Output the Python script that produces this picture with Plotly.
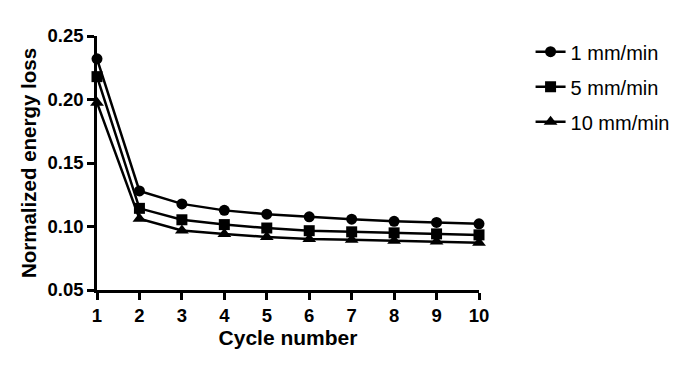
import plotly.graph_objects as go

cycles = [1, 2, 3, 4, 5, 6, 7, 8, 9, 10]
rate_1 = [0.232, 0.128, 0.1178, 0.1127, 0.1097, 0.1076, 0.1058, 0.1041, 0.1032, 0.1021]
rate_5 = [0.218, 0.1143, 0.1053, 0.1015, 0.0988, 0.0967, 0.0958, 0.0950, 0.0942, 0.0934]
rate_10 = [0.1975, 0.1062, 0.0968, 0.0940, 0.0918, 0.0902, 0.0896, 0.0888, 0.0882, 0.0872]
names = ["1 mm/min", "5 mm/min", "10 mm/min"]
symbols = ["circle", "square", "triangle-up"]

fig = go.Figure()
for i, (vals, nm, sym) in enumerate(zip([rate_1, rate_5, rate_10], names, symbols)):
    fig.add_trace(go.Scatter(
        x=cycles, y=vals, name=nm, mode="lines+markers",
        line=dict(color="black", width=2.5),
        marker=dict(symbol=sym, size=11 if sym != "triangle-up" else 12, color="black"),
        cliponaxis=False, legendgroup=str(i),
    ))

fig.update_layout(
    width=700, height=371,
    margin=dict(l=89, r=229, t=28, b=89),
    paper_bgcolor="white", plot_bgcolor="white",
    font=dict(family="Liberation Sans, Arial", color="black"),
    showlegend=True,
    legend=dict(x=1.135, y=1.015, xanchor="left", yanchor="top",
                font=dict(size=20, color="black"), tracegroupgap=6,
                traceorder="grouped", itemwidth=30),
    xaxis=dict(range=[1, 10], tickvals=cycles, showline=True, linecolor="black", linewidth=2.5,
               ticks="outside", ticklen=7, tickwidth=2.5, tickcolor="black", showgrid=False, zeroline=False,
               automargin=False,
               tickfont=dict(size=18.5, family="Liberation Sans, Arial", weight="bold"),
               title=dict(text="<b>Cycle number</b>", font=dict(size=21), standoff=6)),
    yaxis=dict(range=[0.05, 0.25], tickvals=[0.05, 0.10, 0.15, 0.20, 0.25],
               ticktext=["0.05", "0.10", "0.15", "0.20", "0.25"],
               showline=True, linecolor="black", linewidth=2.5,
               ticks="outside", ticklen=7, tickwidth=2.5, tickcolor="black", showgrid=False, zeroline=False,
               automargin=False,
               tickfont=dict(size=18.5, family="Liberation Sans, Arial", weight="bold"),
               title=dict(text="<b>Normalized energy loss</b>", font=dict(size=20.5), standoff=6)),
)

fig.write_html("out.html")
